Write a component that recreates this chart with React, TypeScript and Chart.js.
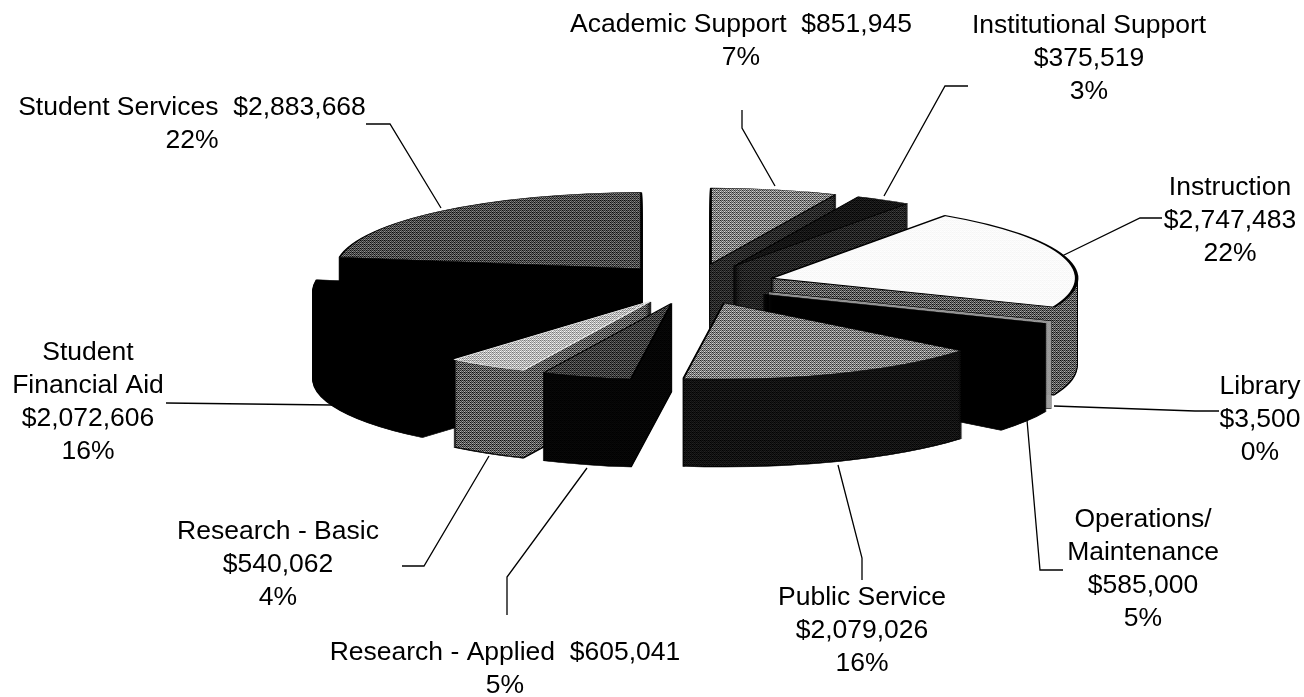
import React, { useEffect, useRef } from "react";
import { Chart, registerables } from "chart.js";

Chart.register(...registerables);

const categories = ["Academic Support", "Institutional Support", "Instruction", "Library", "Operations/Maintenance", "Public Service", "Research - Applied", "Research - Basic", "Student Financial Aid", "Student Services"];
const amounts = [851945, 375519, 2747483, 3500, 585000, 2079026, 605041, 540062, 2072606, 2883668];

// grey levels (0 black .. 1 white) of the top and side faces
const topLevels = [0.5, 0.08, 0.98, 0.6, 0, 0.5, 0.24, 0.72, 0, 0.3];
const sideLevels = [0.16, 0.14, 0.36, 0.7, 0, 0.07, 0.02, 0.36, 0, 0];
const topEdges = ["#000", "#000", "#000", "#000", "#000", "#000", "#000", "#eee", "#000", "#000"];

const labelLines: string[][] = [
  ["Academic Support  $851,945", "7%"],
  ["Institutional Support", "$375,519", "3%"],
  ["Instruction", "$2,747,483", "22%"],
  ["Library", "$3,500", "0%"],
  ["Operations/", "Maintenance", "$585,000", "5%"],
  ["Public Service", "$2,079,026", "16%"],
  ["Research - Applied  $605,041", "5%"],
  ["Research - Basic", "$540,062", "4%"],
  ["Student", "Financial Aid", "$2,072,606", "16%"],
  ["Student Services  $2,883,668", "22%"],
];
const labelCenters = [[741, 25], [1089, 26], [1230, 188], [1260, 387], [1143, 520], [862, 598], [505, 653], [278, 532], [88, 353], [192, 108]];
const leaders = [
  [[742, 110], [742, 128], [775, 186]],
  [[968, 86], [945, 86], [884, 196]],
  [[1162, 218], [1140, 218], [1062, 256]],
  [[1219, 411], [1195, 411], [1054, 406]],
  [[1063, 570], [1040, 570], [1027, 420]],
  [[862, 580], [862, 558], [838, 465]],
  [[507, 615], [507, 577], [587, 468]],
  [[402, 566], [424, 566], [489, 456]],
  [[166, 403], [332, 405]],
  [[366, 124], [390, 124], [441, 208]],
];

const SQUASH = 0.25;
const EXPLODE = 81;
const DEPTH = 88;
const CONTRAST = 0.75;
const bayer = [0, 8, 2, 10, 12, 4, 14, 6, 3, 11, 1, 9, 15, 7, 13, 5];

function dither(ctx: CanvasRenderingContext2D, level: number): CanvasPattern | string {
  if (level <= 0.01) return "#000";
  const c = document.createElement("canvas");
  c.width = 4; c.height = 4;
  const x = c.getContext("2d")!;
  for (let i = 0; i < 16; i++) {
    const span = Math.min(CONTRAST, 2 * level, 2 * (1 - level));
    const v = Math.round(255 * (level + ((bayer[i] + 0.5) / 16 - 0.5) * span));
    x.fillStyle = `rgb(${v},${v},${v})`;
    x.fillRect(i % 4, Math.floor(i / 4), 1, 1);
  }
  return ctx.createPattern(c, "repeat")!;
}

function faceOptions(fill: any, stroke: string, width: number) {
  return {
    backgroundColor: fill, borderColor: stroke, borderWidth: width, borderAlign: "center", borderJoinStyle: "round",
    borderRadius: 0, borderDash: [], borderDashOffset: 0, offset: 0, spacing: 0, circular: true, selfJoin: false,
  };
}

const extrudedPie = {
  id: "extrudedPie",
  beforeDatasetsDraw(chart: any) {
    const ctx: CanvasRenderingContext2D = chart.ctx;
    const arcs: any[] = chart.getDatasetMeta(0).data;
    const tops = topLevels.map((l) => dither(ctx, l));
    const sides = sideLevels.map((l) => dither(ctx, l));
    const paint = (arc: any, opts: any, dz: number) => {
      const mid = (arc.startAngle + arc.endAngle) / 2;
      const saved = arc.options;
      ctx.save();
      ctx.translate(arc.x, arc.y + dz);
      ctx.scale(1, SQUASH);
      ctx.translate(-arc.x, -arc.y);
      ctx.translate(Math.cos(mid) * EXPLODE, Math.sin(mid) * EXPLODE);
      if (opts.backgroundColor instanceof CanvasPattern) {
        opts.backgroundColor.setTransform(ctx.getTransform().inverse());
      }
      arc.options = opts;
      arc.draw(ctx);
      arc.options = saved;
      ctx.restore();
    };
    const order = arcs.map((a, i) => i).sort((p, q) => {
      const m = (a: any) => Math.sin((a.startAngle + a.endAngle) / 2);
      return m(arcs[p]) - m(arcs[q]);
    });
    for (const i of order) {
      const arc = arcs[i];
      const sliver = categories[i] === "Library";
      for (let d = DEPTH; d > 0; d--) paint(arc, faceOptions("#000", "#000", 2), d);
      for (let d = DEPTH - 1; d > 0; d--) paint(arc, faceOptions(sides[i], sliver ? "#aaa" : "rgba(0,0,0,0)", sliver ? 1 : 0), d);
      paint(arc, faceOptions(tops[i], topEdges[i], i === 2 ? 3.5 : 2), 0);
    }
    return false;
  },
  afterDraw(chart: any) {
    const ctx: CanvasRenderingContext2D = chart.ctx;
    ctx.save();
    ctx.strokeStyle = "#000";
    ctx.lineWidth = 1.3;
    for (const path of leaders) {
      ctx.beginPath();
      path.forEach(([x, y], k) => (k ? ctx.lineTo(x, y) : ctx.moveTo(x, y)));
      ctx.stroke();
    }
    ctx.fillStyle = "#000";
    ctx.font = '26.5px "Liberation Sans"';
    ctx.textAlign = "center";
    ctx.textBaseline = "middle";
    labelLines.forEach((lines, i) => {
      lines.forEach((t, k) => ctx.fillText(t, labelCenters[i][0], labelCenters[i][1] + k * 33));
    });
    ctx.restore();
  },
};

export default function App() {
  const ref = useRef<HTMLCanvasElement>(null);
  useEffect(() => {
    document.body.style.margin = "0";
    const chart = new Chart(ref.current!, {
      type: "pie",
      data: { labels: categories, datasets: [{ data: amounts, backgroundColor: "#888", borderWidth: 0 }] },
      options: {
        animation: false,
        responsive: false,
        devicePixelRatio: 1,
        radius: 305,
        events: [],
        layout: { padding: { left: 84, bottom: 129 } },
        plugins: { legend: { display: false }, tooltip: { enabled: false } },
      } as any,
      plugins: [extrudedPie],
    });
    return () => chart.destroy();
  }, []);
  return <canvas ref={ref} width={1304} height={697} style={{ display: "block" }} />;
}
